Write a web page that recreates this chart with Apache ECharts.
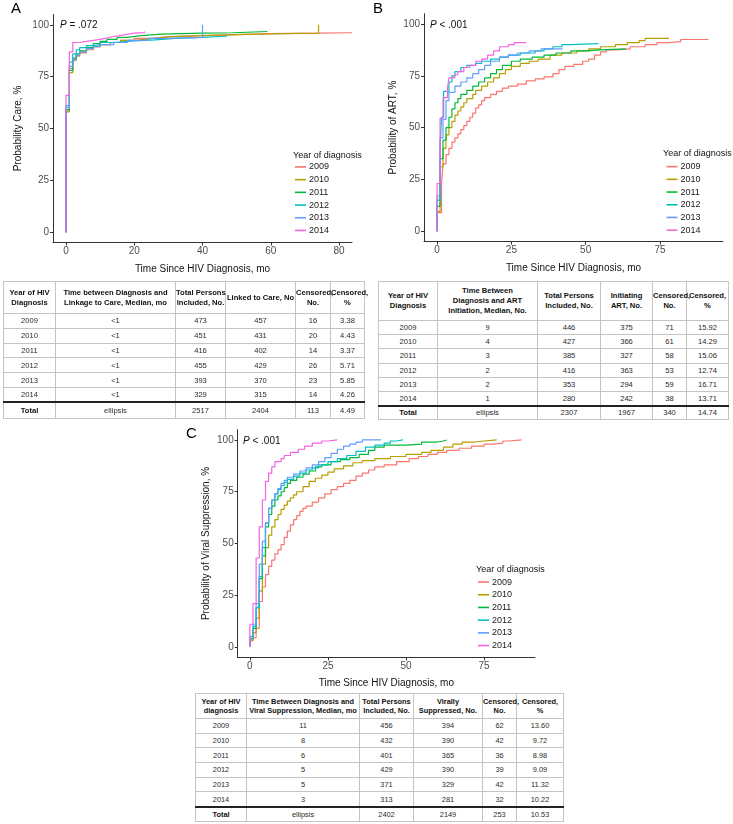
<!DOCTYPE html>
<html><head><meta charset="utf-8">
<script src="https://cdn.jsdelivr.net/npm/echarts@6/dist/echarts.min.js"></script>
<style>
html,body{margin:0;padding:0;background:#fff;}
#chart{position:absolute;left:0;top:0;width:733px;height:824px;}
table{position:absolute;border-collapse:collapse;font-family:"Liberation Sans",Arial,sans-serif;font-size:7.4px;color:#2a2a2a;table-layout:fixed;border:1px solid #555;z-index:5;background:#fff;}
td{border:1px solid #c4c4c4;text-align:center;padding:0;white-space:nowrap;overflow:visible;}
td.h{font-weight:bold;color:#111;line-height:9.6px;}
tr.tot td{border-top:2px solid #222;}
tr.tot td.first{font-weight:bold;color:#111;}
</style>
</head><body>
<div id="chart"></div>
<script>
const FONT = '"Liberation Sans", Arial, sans-serif';
const years = ['2009','2010','2011','2012','2013','2014'];
const colors = ['#F8766D','#B79F00','#00BA38','#00BFC4','#619CFF','#F564E3'];
const tickA = [0,20,40,60,80];
const tickBC = [0,25,50,75];
const tickY = [0,25,50,75,100];

// Panel A: probability of linkage to care, [months, %]
const careA_2009 = [[0,0],[0,59],[1,79],[2,83],[3,85],[4,86.5],[6,88],[8,89.5],[10,90.5],[13,91.5],[16,92.5],[20,93.5],[25,94.3],[30,94.8],[40,95.3],[50,95.8],[60,96],[74,96.2],[83.8,96.2]];
const careA_2010 = [[0,0],[0,58],[1,77],[2,83],[3,85],[4,87],[6,88.5],[8,89.5],[10,90.5],[13,91.5],[16,92.5],[20,93.3],[25,94.2],[30,94.8],[40,95.3],[50,95.7],[60,96],[74,96],[74,100]];
const careA_2011 = [[0,0],[0,59],[1,78],[2,84],[3,86],[4,87.5],[6,89],[8,91],[10,92],[12,93],[15,94],[18,94.8],[22,95.5],[28,96],[40,96.2],[49,96.8],[59,96.8]];
const careA_2012 = [[0,0],[0,61],[1,82],[2,86],[3,88],[4,89],[6,90],[8,90.5],[10,91.5],[14,92.3],[20,92.8],[26,93.5],[32,94],[40,94.5],[47,95]];
const careA_2013 = [[0,0],[0,60],[1,80],[2,83.5],[3,85.5],[4,87],[6,88.5],[8,89.5],[10,90.5],[14,91.5],[18,92.5],[24,93.5],[30,94],[40,94.5],[40,100]];
const careA_2014 = [[0,0],[0,66],[1,87],[2,91.5],[4,92],[6,92.8],[9,93.6],[12,94.4],[14,95.2],[17,96],[20,96.3],[23,96.8]];

// Panel B: probability of ART initiation
const artB_2009 = [[0,0],[0,9],[1.5,23],[2,32.5],[3,37],[4,40],[5,43],[6,45],[7,47],[8,49],[9,51],[10,53],[11,55],[12,57],[13,59.5],[14,61],[15,63],[16,64.5],[18,66],[20,67.5],[22,69],[24,70],[27,71],[30,72.5],[33,73.5],[36,74.5],[39,76],[41,78],[43,79.5],[46,80.5],[49,82],[51,83],[53,85],[55,86.5],[57,87.5],[60,88],[65,89],[70,90],[74,91],[78,91.5],[82,92.5],[91.3,92.5]];
const artB_2010 = [[0,0],[0,9.5],[1,31],[2,40],[3,46.5],[4,50],[5,53],[6,56],[7,58],[8,60],[9,62],[10,64],[12,66],[13,68],[15,70],[17,72],[19,74],[21,76],[23,78],[25,79.5],[28,81],[31,82],[34,83],[38,85],[42,86],[47,87],[51,88],[55,89],[60,90],[64,91],[68,92],[70,93],[78,93]];
const artB_2011 = [[0,0],[0,12],[1,35],[2,44],[3,50],[4,55],[5,59],[6,62],[7,64],[8,66],[10,68],[12,70],[14,72],[16,74],[18,76],[20,78],[22,80],[25,82],[28,83],[32,84],[36,85],[40,86],[45,87],[50,87.5],[55,88],[63.5,88]];
const artB_2012 = [[0,0],[0,15],[1,40],[1.5,55],[2.2,67.5],[4,72],[5,75],[6,77],[8,79],[10,80],[13,81],[15,82],[18,83],[21,84],[24,85],[28,86],[33,87],[36,88],[39,89],[42,90],[45,90.5],[54.3,90.5]];
const artB_2013 = [[0,0],[0,17],[1,45],[2,54],[3,63],[4,67],[6,70],[8,72],[10,74],[12,76],[14,78],[16,80],[18,82],[21,84],[24,85],[27,86],[31,87],[35,88],[42.2,88]];
const artB_2014 = [[0,0],[0,23],[1,54.5],[2,64.5],[3.5,69],[4,74],[6,75.5],[7,77],[9,79],[11,80],[13,82],[15,83],[17,85],[19,87],[21,89],[24,90],[26,91],[30,91]];

// Panel C: probability of viral suppression
const vsC_2009 = [[0,0],[0,3],[1,4.5],[2,9],[3,22],[4,29],[5,35],[6,39],[7,42],[8,45],[9,47],[10,49.5],[11,53],[12,56],[13,59],[14,61.5],[15,63.5],[16,65.5],[17,67],[18,68],[20,70],[22,72],[24,74],[26,76],[28,77.5],[30,79],[32,80.5],[34,82.5],[36,84],[38,85.5],[40,87],[43,88],[47,89.5],[51,91],[54,92],[57,93],[60,94],[63,95],[67,96],[71,97],[75,98],[78,98.5],[81,99.5],[83,100],[87,100]];
const vsC_2010 = [[0,0],[0,3.5],[1,7],[2,14],[3,27],[4,40],[5,48],[6,54],[7,58],[8,61.5],[9,64],[10,66.5],[11,68.5],[12,70.5],[13,72],[14,73.5],[15,75],[17,77.5],[19,80],[21,81.5],[23,83],[25,84.5],[27,86],[30,87.5],[33,89],[36,90],[40,91],[45,92],[50,93],[55,94],[58,95],[62,96.5],[65,98],[68,99],[72,99.5],[75,100],[79,100]];
const vsC_2011 = [[0,0],[0,4],[1,9],[2,19],[3,33],[4,44],[5,58],[6,64],[7,68],[8,71],[9,73],[10,75],[11,77],[12,79],[13,80.5],[15,82],[17,83.5],[19,85],[21,87],[23,88],[26,89.5],[29,90.5],[32,91.5],[35,93],[38,95],[40,96.5],[43,97.5],[50,98],[55,99],[60,99.5],[62,100],[63,100]];
const vsC_2012 = [[0,0],[0,5],[1,10],[2,19],[3,34],[4,48],[5,60],[6,67],[7,71],[8,74],[9,76],[10,78],[11,79.5],[12,81],[14,82.5],[16,84],[18,85.5],[20,86.5],[22,88],[25,89.5],[28,91],[31,92.5],[34,94.5],[37,96.5],[40,97.5],[43,98.5],[45,99.5],[47,100],[49,100]];
const vsC_2013 = [[0,0],[0,4],[1,11],[2,21],[3,40],[4,51],[5,60],[6,67],[7,71],[8,74],[9,76.5],[10,79],[11,80.5],[12,82],[14,83.5],[16,85],[18,86.5],[20,88],[22,89.5],[24,91.5],[26,93.5],[28,95.5],[30,97],[32,98],[34,99],[36,100],[42,100]];
const vsC_2014 = [[0,0],[0,11],[1,21],[2,43],[3,58],[4,71],[5,80],[6,84],[7,87],[8,89.5],[10,91],[11,92.5],[13,94],[15.5,95.5],[17.5,97],[20,98.5],[23,99.5],[25,100],[28,100]];

// Tables
const headA = ['Year of HIV<br>Diagnosis','Time between Diagnosis and<br>Linkage to Care, Median, mo','Total Persons<br>Included, No.','Linked to Care, No','Censored,<br>No.','Censored,<br>%'];
const medA = ['<1','<1','<1','<1','<1','<1'];
const totA = [473,451,416,455,393,329];
const evtA = [457,431,402,429,370,315];
const cenA = [16,20,14,26,23,14];
const pctA = ['3.38','4.43','3.37','5.71','5.85','4.26'];
const sumA = ['Total','ellipsis','2517','2404','113','4.49'];

const headB = ['Year of HIV<br>Diagnosis','Time Between<br>Diagnosis and ART<br>Initiation, Median, No.','Total Persons<br>Included, No.','Initiating<br>ART, No.','Censored,<br>No.','Censored,<br>%'];
const medB = [9,4,3,2,2,1];
const totB = [446,427,385,416,353,280];
const evtB = [375,366,327,363,294,242];
const cenB = [71,61,58,53,59,38];
const pctB = ['15.92','14.29','15.06','12.74','16.71','13.71'];
const sumB = ['Total','ellipsis','2307','1967','340','14.74'];

const headC = ['Year of HIV<br>diagnosis','Time Between Diagnosis and<br>Viral Suppression, Median, mo','Total Persons<br>Included, No.','Virally<br>Suppressed, No.','Censored,<br>No.','Censored,<br>%'];
const medC = [11,8,6,5,5,3];
const totC = [456,432,401,429,371,313];
const evtC = [394,390,365,390,329,281];
const cenC = [62,42,36,39,42,32];
const pctC = ['13.60','9.72','8.98','9.09','11.32','10.22'];
const sumC = ['Total','ellipsis','2402','2149','253','10.53'];

function buildTable(left, top, cols, headH, rowH, totH, fs, head, cols6, sum){
  const t = document.createElement('table');
  t.style.left = left + 'px'; t.style.top = top + 'px';
  t.style.fontSize = fs + 'px';
  const w = cols.reduce((a,b)=>a+b,0);
  t.style.width = w + 'px';
  let html = '<colgroup>' + cols.map(c=>'<col style="width:'+c+'px">').join('') + '</colgroup>';
  html += '<tr style="height:'+headH+'px">' + head.map(h=>'<td class="h" style="line-height:'+(fs*1.28).toFixed(1)+'px">'+h+'</td>').join('') + '</tr>';
  for (let i=0;i<years.length;i++){
    const vals = [years[i]].concat(cols6.map(a=>a[i]));
    html += '<tr style="height:'+rowH+'px">' + vals.map(v=>'<td>'+String(v).replace('<','&lt;')+'</td>').join('') + '</tr>';
  }
  html += '<tr class="tot" style="height:'+totH+'px">' + sum.map((v,j)=>'<td'+(j===0?' class="first"':'')+'>'+v+'</td>').join('') + '</tr>';
  t.innerHTML = html;
  document.body.appendChild(t);
}
buildTable(3, 281, [52,120,50,70,35,34], 32, 14.8, 16, 7.6, headA, [medA,totA,evtA,cenA,pctA], sumA);
buildTable(378, 281, [59,100,63,52,34,42], 39, 14.2, 14, 7.6, headB, [medB,totB,evtB,cenB,pctB], sumB);
buildTable(195, 693, [51,113,54,69,34,47], 25, 14.7, 15, 7.4, headC, [medC,totC,evtC,cenC,pctC], sumC);

// Chart
const chart = echarts.init(document.getElementById('chart'), null, {renderer:'canvas'});
const grids = [
  {left:53, top:14.5, width:299, height:228},
  {left:424, top:13.6, width:299, height:228},
  {left:237.7, top:429.6, width:297.3, height:227.8}
];
const xr = [[-3.8,83.8,tickA],[-4.4,96.2,tickBC],[-3.9,91.3,tickBC]];
const yNames = ['Probability Care, %','Probability of ART, %','Probability of Viral Suppression, %'];
const yGaps = [30,26,26];
const xGaps = [22,22,21];
const axisCol = '#333';
const xAxes = xr.map((r,i)=>({
  gridIndex:i, type:'value', min:r[0], max:r[1],
  axisLine:{onZero:false, lineStyle:{color:axisCol,width:1}},
  axisTick:{show:true, length:3, lineStyle:{color:axisCol}, customValues:r[2]},
  axisLabel:{customValues:r[2], fontSize:10, color:'#4d4d4d', margin:4, fontFamily:FONT},
  splitLine:{show:false},
  name:'Time Since HIV Diagnosis, mo', nameLocation:'middle', nameGap:xGaps[i],
  nameTextStyle:{fontSize:10, color:'#111', fontFamily:FONT}
}));
const yAxes = [0,1,2].map(i=>({
  gridIndex:i, type:'value', min:-5, max:105,
  axisLine:{onZero:false, lineStyle:{color:axisCol,width:1}},
  axisTick:{show:true, length:3, lineStyle:{color:axisCol}, customValues:tickY},
  axisLabel:{customValues:tickY, fontSize:10, color:'#4d4d4d', margin:4, fontFamily:FONT},
  splitLine:{show:false},
  name:yNames[i], nameLocation:'middle', nameGap:yGaps[i],
  nameTextStyle:{fontSize:10, color:'#111', fontFamily:FONT}
}));
const panelData = [
  [careA_2009,careA_2010,careA_2011,careA_2012,careA_2013,careA_2014],
  [artB_2009,artB_2010,artB_2011,artB_2012,artB_2013,artB_2014],
  [vsC_2009,vsC_2010,vsC_2011,vsC_2012,vsC_2013,vsC_2014]
];
const series = [];
panelData.forEach((arr,p)=>{
  arr.forEach((d,i)=>{
    series.push({type:'line', name:years[i], xAxisIndex:p, yAxisIndex:p, data:d, step:'end',
      showSymbol:false, symbol:'none', animation:false,
      lineStyle:{width:1.2, color:colors[i]}, itemStyle:{color:colors[i]}});
  });
});
const legendPos = [[295,160.6],[666.5,160.3],[478,575.7]];
const legends = legendPos.map(p=>({
  orient:'vertical', left:p[0], top:p[1], padding:0, itemGap:0, itemWidth:11, itemHeight:1.6,
  icon:'rect', selectedMode:false, data:years,
  textStyle:{fontSize:9, color:'#1a1a1a', lineHeight:12.7, fontFamily:FONT, padding:[0,0,0,-2]}
}));
function txt(x,y,text,size,extra){
  return {type:'text', x:x, y:y, silent:true, style:Object.assign({text:text, fontSize:size, fontFamily:FONT, fill:'#111', verticalAlign:'middle', align:'left'}, extra||{})};
}
const pRich = {rich:{i:{fontStyle:'italic', fontSize:10, fontFamily:FONT, fill:'#111'}}};
const graphics = [
  txt(11,9,'A',15,{fill:'#000'}),
  txt(373,9,'B',15,{fill:'#000'}),
  txt(186,434,'C',15,{fill:'#000'}),
  txt(60,25,'{i|P} = .072',10,pRich),
  txt(430,25,'{i|P} < .001',10,pRich),
  txt(243,441,'{i|P} < .001',10,pRich),
  txt(293,155.7,'Year of diagnosis',9),
  txt(663,154,'Year of diagnosis',9),
  txt(476,570,'Year of diagnosis',9)
];
chart.setOption({
  backgroundColor:'#fff', animation:false,
  textStyle:{fontFamily:FONT},
  grid:grids, xAxis:xAxes, yAxis:yAxes, series:series, legend:legends, graphic:graphics
});
</script>
</body></html>
